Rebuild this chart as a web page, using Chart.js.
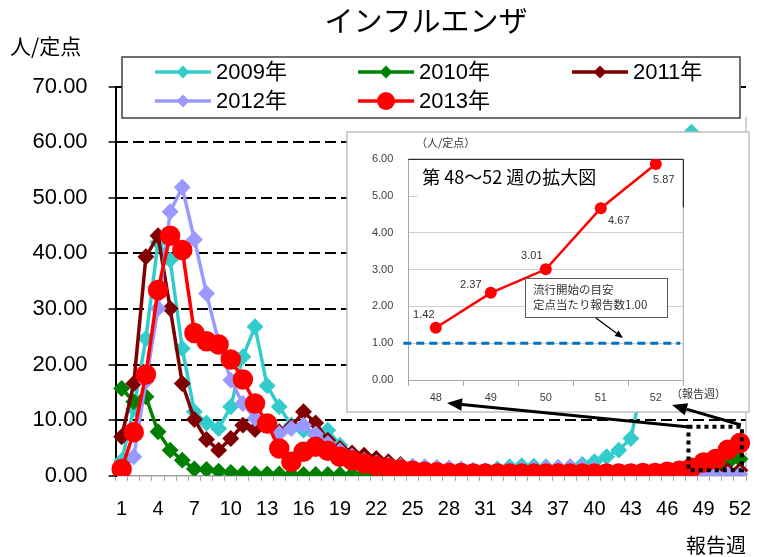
<!DOCTYPE html>
<html lang="ja">
<head>
<meta charset="utf-8">
<title>インフルエンザ</title>
<script src="https://cdn.jsdelivr.net/npm/chart.js@4.4.1/dist/chart.umd.min.js"></script>
<style>
  html, body { margin: 0; padding: 0; background: #fff; }
  #wrap { position: relative; width: 763px; height: 557px; }
  #wrap canvas { position: absolute; left: 0; top: 0; }
</style>
</head>
<body>
<div id="wrap">
  <canvas id="main" width="763" height="557"></canvas>
  <canvas id="zoom" width="763" height="557"></canvas>
</div>
<script>
// 報告週 1〜52
const weeks = ['1','2','3','4','5','6','7','8','9','10','11','12','13','14','15','16','17','18','19','20',
  '21','22','23','24','25','26','27','28','29','30','31','32','33','34','35','36','37','38','39','40',
  '41','42','43','44','45','46','47','48','49','50','51','52'];

const y2009 = [2.7, 12.0, 24.7, 42.0, 38.8, 22.9, 11.5, 9.5, 8.5, 12.4, 21.4, 26.8, 16.2, 12.4, 9.1, 8.2, 7.3, 8.2, 5.5, 3.5,
  2.5, 2.0, 1.6, 1.3, 1.0, 0.8, 0.7, 0.6, 0.6, 0.6, 0.8, 1.2, 1.6, 1.8, 1.7, 1.6, 1.5, 1.6, 2.0, 2.5,
  3.4, 4.6, 6.7, 17.0, 32.0, 47.0, 57.0, 61.8, 55.0, 45.0, 38.0, 30.0];
const y2010 = [15.7, 13.3, 14.2, 7.9, 4.6, 2.8, 1.2, 1.1, 0.8, 0.6, 0.4, 0.3, 0.3, 0.3, 0.2, 0.2, 0.2, 0.2, 0.2, 0.2,
  0.2, 0.2, 0.2, 0.2, 0.1, 0.1, 0.1, 0.1, 0.1, 0.1, 0.1, 0.1, 0.1, 0.1, 0.1, 0.1, 0.1, 0.1, 0.1, 0.1,
  0.1, 0.1, 0.1, 0.2, 0.2, 0.3, 0.5, 0.8, 1.2, 1.7, 2.3, 3.0];
const y2011 = [7.0, 16.6, 39.4, 43.2, 30.1, 16.6, 10.1, 6.5, 4.6, 6.7, 9.1, 8.3, 9.5, 7.9, 8.8, 11.5, 9.5, 6.4, 4.9, 4.1,
  3.7, 3.1, 2.5, 2.0, 1.5, 1.2, 0.9, 0.7, 0.6, 0.5, 0.4, 0.4, 0.3, 0.3, 0.3, 0.3, 0.3, 0.3, 0.3, 0.3,
  0.3, 0.3, 0.3, 0.3, 0.3, 0.3, 0.4, 0.5, 0.6, 0.7, 0.9, 1.0];
const y2012 = [0.8, 3.4, 17.0, 30.1, 47.5, 51.9, 42.5, 32.8, 24.0, 17.2, 13.0, 10.3, 9.0, 7.6, 8.5, 9.1, 7.5, 5.8, 4.5, 3.5,
  2.8, 2.3, 2.0, 1.8, 1.7, 1.6, 1.5, 1.4, 1.2, 1.0, 0.9, 0.9, 1.0, 1.1, 1.2, 1.4, 1.5, 1.6, 1.5, 1.2,
  0.9, 0.7, 0.5, 0.4, 0.3, 0.3, 0.2, 0.2, 0.2, 0.2, 0.2, 0.2];
const y2013 = [1.2, 7.8, 18.2, 33.4, 43.2, 40.6, 25.7, 24.2, 23.6, 20.9, 17.3, 13.0, 9.4, 4.9, 2.5, 4.3, 5.2, 4.5, 3.4, 2.8,
  2.2, 1.7, 1.4, 1.1, 0.9, 0.7, 0.6, 0.5, 0.5, 0.4, 0.4, 0.4, 0.4, 0.4, 0.4, 0.4, 0.4, 0.4, 0.4, 0.4,
  0.4, 0.4, 0.4, 0.5, 0.5, 0.7, 0.9, 1.42, 2.37, 3.01, 4.67, 5.87];

const yTicks = [0, 10, 20, 30, 40, 50, 60, 70];

// 拡大図 (第48〜52週)
const zoomWeeks = ['48', '49', '50', '51', '52'];
const zoomValues = [1.42, 2.37, 3.01, 4.67, 5.87];
const threshold = 1.00;

const FONT = "'Liberation Sans', 'Noto Sans CJK JP', sans-serif";
const JP = "'Noto Sans CJK JP', sans-serif";
Chart.defaults.font.family = FONT;
Chart.defaults.color = '#000';

function marker(ctx, style, x, y, r, color) {
  ctx.fillStyle = color;
  ctx.beginPath();
  if (style === 'circle') {
    ctx.arc(x, y, r, 0, Math.PI * 2);
  } else {
    ctx.moveTo(x - r, y); ctx.lineTo(x, y - r); ctx.lineTo(x + r, y); ctx.lineTo(x, y + r);
    ctx.closePath();
  }
  ctx.fill();
}

function arrow(ctx, x1, y1, x2, y2, w, head) {
  const a = Math.atan2(y2 - y1, x2 - x1);
  const bx = x2 - head * Math.cos(a), by = y2 - head * Math.sin(a);
  const hw = head * 0.42;
  ctx.lineWidth = w;
  ctx.beginPath(); ctx.moveTo(x1, y1); ctx.lineTo(bx, by); ctx.stroke();
  ctx.beginPath();
  ctx.moveTo(x2, y2);
  ctx.lineTo(bx + hw * Math.sin(a), by - hw * Math.cos(a));
  ctx.lineTo(bx - hw * Math.sin(a), by + hw * Math.cos(a));
  ctx.closePath(); ctx.fill();
}

const mainDecor = {
  id: 'mainDecor',
  beforeDatasetsDraw(chart) {
    const {ctx, chartArea: a} = chart;
    ctx.save();
    ctx.strokeStyle = '#a6a6a6';
    ctx.lineWidth = 1;
    ctx.beginPath(); ctx.moveTo(a.right, a.top + 30); ctx.lineTo(a.right, a.bottom); ctx.stroke();
    ctx.restore();
  },
  afterDraw(chart) {
    const {ctx, scales: {x, y}} = chart;
    ctx.save();
    ctx.fillStyle = '#000';
    ctx.textBaseline = 'middle';
    ctx.textAlign = 'center';
    ctx.font = '29px ' + JP;
    ctx.fillText('インフルエンザ', 426, 21);
    ctx.textAlign = 'left';
    ctx.font = '21px ' + JP;
    ctx.fillText('人/定点', 10, 46);

    // legend
    ctx.fillStyle = '#fff';
    ctx.fillRect(122, 57, 618, 61);
    ctx.strokeStyle = '#404040';
    ctx.lineWidth = 1.5;
    ctx.strokeRect(122, 57, 618, 61);
    const cols = [155, 358, 572], rows = [72, 101];
    chart.data.datasets.forEach((ds, i) => {
      const lx = cols[i % 3], ly = rows[Math.floor(i / 3)];
      ctx.strokeStyle = ds.borderColor;
      ctx.lineWidth = ds.borderWidth;
      ctx.beginPath(); ctx.moveTo(lx, ly); ctx.lineTo(lx + 56, ly); ctx.stroke();
      marker(ctx, ds.pointStyle, lx + 28, ly, ds.pointRadius + 0.5, ds.borderColor);
      ctx.fillStyle = '#000';
      ctx.font = '22px ' + FONT;
      ctx.fillText(ds.label, lx + 61, ly + 1);
    });

    // dotted frame round weeks 48-52
    const fx1 = x.getPixelForValue(47) - 3, fx2 = x.getPixelForValue(51) + 2;
    const fy1 = y.getPixelForValue(8.8), fy2 = y.getPixelForValue(1.0);
    ctx.strokeStyle = '#000';
    ctx.lineWidth = 4;
    ctx.setLineDash([4, 4]);
    ctx.strokeRect(fx1, fy1, fx2 - fx1, fy2 - fy1);
    ctx.restore();
  }
};

new Chart(document.getElementById('main'), {
  type: 'line',
  data: {
    labels: weeks,
    datasets: [
      {label: '2009年', data: y2009, borderColor: '#33CCCC', backgroundColor: '#33CCCC', pointStyle: 'rectRot', pointRadius: 6, borderWidth: 3.5, order: 5},
      {label: '2010年', data: y2010, borderColor: '#008000', backgroundColor: '#008000', pointStyle: 'rectRot', pointRadius: 6, borderWidth: 3.5, order: 4},
      {label: '2011年', data: y2011, borderColor: '#800000', backgroundColor: '#800000', pointStyle: 'rectRot', pointRadius: 6, borderWidth: 3.5, order: 3},
      {label: '2012年', data: y2012, borderColor: '#9999FF', backgroundColor: '#9999FF', pointStyle: 'rectRot', pointRadius: 6, borderWidth: 3.5, order: 2},
      {label: '2013年', data: y2013, borderColor: '#FF0000', backgroundColor: '#FF0000', pointStyle: 'circle', pointRadius: 8.5, borderWidth: 3.5, order: 1}
    ]
  },
  options: {
    responsive: false,
    animation: false,
    events: [],
    layout: {padding: {top: 86.7, right: 17, left: 0, bottom: 0}},
    elements: {point: {borderWidth: 1}, line: {tension: 0}},
    plugins: {legend: {display: false}, tooltip: {enabled: false}},
    scales: {
      x: {
        offset: true,
        grid: {drawOnChartArea: false, offset: true, tickLength: 5, color: '#a0a0a0', tickWidth: 1},
        border: {color: '#a0a0a0', width: 1.5},
        ticks: {
          autoSkip: false, maxRotation: 0, padding: 17,
          font: {size: 20},
          callback: (v, i) => (i % 3 === 0 ? weeks[i] : '')
        },
        title: {display: true, text: '報告週', align: 'end', font: {size: 20, family: JP}, padding: 0},
        afterFit(s) { s.height = 81.3; s.paddingLeft = 0; s.paddingRight = 0; }
      },
      y: {
        min: yTicks[0], max: yTicks[yTicks.length - 1],
        afterBuildTicks(s) { s.ticks = yTicks.map(v => ({value: v})); },
        ticks: {padding: 21, font: {size: 22}, callback: v => Number(v).toFixed(2)},
        grid: {
          color: c => (c.tick && c.tick.value === 0 ? 'rgba(0,0,0,0)' : '#000'),
          lineWidth: 2, tickLength: 7, tickColor: '#000', tickWidth: 1.5, tickBorderDash: []
        },
        border: {color: '#000', width: 2, dash: [11, 5]},
        afterFit(s) { s.width = 115.6; }
      }
    }
  },
  plugins: [mainDecor]
});

// ---- 拡大図 ----
const labelOffsets = [[-12, -13], [-20, -8], [-14, -13], [18, 13], [8, 16]];

const zoomDecor = {
  id: 'zoomDecor',
  beforeDraw(chart) {
    const {ctx} = chart;
    ctx.save();
    ctx.fillStyle = '#fff';
    ctx.fillRect(347, 132, 402, 280);
    ctx.strokeStyle = '#bfbfbf';
    ctx.lineWidth = 1.5;
    ctx.strokeRect(347, 132, 402, 280);
    ctx.restore();
  },
  beforeDatasetsDraw(chart) {
    const {ctx, chartArea: a, scales: {y}} = chart;
    ctx.save();
    // plot border right
    ctx.strokeStyle = '#a6a6a6';
    ctx.lineWidth = 1;
    ctx.beginPath(); ctx.moveTo(a.right, a.top); ctx.lineTo(a.right, a.bottom); ctx.stroke();
    // title box
    ctx.fillStyle = '#fff';
    ctx.fillRect(a.left + 9, a.top, a.right - a.left - 9, 41);
    ctx.strokeStyle = '#000';
    ctx.beginPath(); ctx.moveTo(a.left, a.top); ctx.lineTo(a.right, a.top); ctx.lineTo(a.right, a.top + 48); ctx.stroke();
    ctx.fillStyle = '#000';
    ctx.font = '18px ' + JP;
    ctx.textBaseline = 'middle';
    ctx.fillText('第 48～52 週の拡大図', a.left + 14, a.top + 18);
    // threshold line
    const ty = y.getPixelForValue(threshold);
    ctx.strokeStyle = '#0070C0';
    ctx.lineWidth = 3;
    ctx.setLineDash([8, 5]);
    ctx.beginPath(); ctx.moveTo(a.left - 5, ty); ctx.lineTo(a.right - 3, ty); ctx.stroke();
    ctx.restore();
  },
  afterDraw(chart) {
    const {ctx} = chart;
    const meta = chart.getDatasetMeta(0);
    ctx.save();
    ctx.fillStyle = '#333';
    ctx.font = '11px ' + FONT;
    ctx.textAlign = 'center';
    ctx.textBaseline = 'middle';
    meta.data.forEach((pt, i) => {
      ctx.fillText(zoomValues[i].toFixed(2), pt.x + labelOffsets[i][0], pt.y + labelOffsets[i][1]);
    });
    ctx.textAlign = 'left';
    ctx.font = '11px ' + JP;
    ctx.fillText('（人/定点）', 416, 143);
    ctx.fillText('（報告週）', 671, 394);

    // note box
    ctx.fillStyle = '#fff';
    ctx.fillRect(525, 278, 142, 39);
    ctx.strokeStyle = '#595959';
    ctx.lineWidth = 1;
    ctx.strokeRect(525.5, 278.5, 142, 39);
    ctx.fillStyle = '#333';
    ctx.font = '11.5px ' + JP;
    ctx.fillText('流行開始の目安', 533, 289.5);
    ctx.fillText('定点当たり報告数1.00', 533, 304.5);
    ctx.fillStyle = '#000';
    ctx.strokeStyle = '#000';
    arrow(ctx, 596, 318, 623, 338, 1.3, 8);

    // arrows from the frame in the main chart
    arrow(ctx, 689, 427, 447, 403, 3, 15);
    arrow(ctx, 741, 425, 672, 405, 3, 15);
    ctx.restore();
  }
};

new Chart(document.getElementById('zoom'), {
  type: 'line',
  data: {
    labels: zoomWeeks,
    datasets: [{
      data: zoomValues, borderColor: '#FF0000', backgroundColor: '#FF0000',
      borderWidth: 2.5, pointRadius: 6, pointBorderWidth: 0, tension: 0
    }]
  },
  options: {
    responsive: false,
    animation: false,
    events: [],
    layout: {padding: {left: 347, right: 79.7, top: 159.3, bottom: 147}},
    plugins: {legend: {display: false}, tooltip: {enabled: false}},
    scales: {
      x: {
        offset: true,
        grid: {drawOnChartArea: false, offset: true, tickLength: 6, color: '#a6a6a6'},
        border: {color: '#a6a6a6'},
        ticks: {font: {size: 11}, color: '#404040', padding: 5},
        afterFit(s) { s.height = 30; s.paddingLeft = 0; s.paddingRight = 0; }
      },
      y: {
        min: 0, max: 6,
        ticks: {stepSize: 1, font: {size: 11}, color: '#404040', padding: 15, callback: v => Number(v).toFixed(2)},
        grid: {drawTicks: false, color: c => (c.tick && c.tick.value === 0 ? 'rgba(0,0,0,0)' : '#d0d0d0')},
        border: {color: '#a6a6a6'},
        afterFit(s) { s.width = 61.3; }
      }
    }
  },
  plugins: [zoomDecor]
});
</script>
</body>
</html>
